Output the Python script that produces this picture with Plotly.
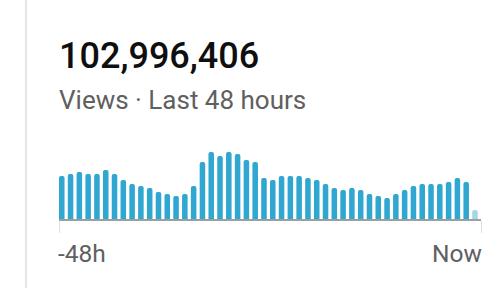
import plotly.graph_objects as go

hours = list(range(48))
views = [43, 45, 47, 45, 45, 49, 45, 39, 35, 33, 31, 27, 25, 23, 25, 33,
         57, 67, 63, 67, 65, 59, 57, 41, 39, 43, 43, 43, 41, 39, 35, 31,
         29, 31, 29, 25, 23, 21, 25, 29, 33, 35, 35, 35, 37, 41, 37, 9]
tick_labels = ["-48h", "Now"]
total_views = "102,996,406"
subtitle = "Views · Last 48 hours"

BLUE = "#30a7d0"
LIGHT = "#a3d6ea"
colors = [BLUE] * (len(views) - 1) + [LIGHT]

W, H = 498, 288
L, R, T, B = 59, 17, 149, 69
ph = H - T - B

def py(Y):
    return (H - B - Y) / ph

fig = go.Figure(go.Bar(
    x=hours, y=views, marker=dict(color=colors, line=dict(width=0)),
    width=0.63, offset=0, hoverinfo="skip"))

fig.update_layout(
    width=W, height=H, margin=dict(l=L, r=R, t=T, b=B),
    paper_bgcolor="white", plot_bgcolor="white",
    barcornerradius=3, showlegend=False,
    font=dict(family="Roboto", color="#606060"),
    xaxis=dict(range=[0, len(hours)], tickvals=[0, len(hours)], ticktext=["", ""],
               ticks="outside", ticklen=12, tickcolor="#e0e0e0", tickwidth=1,
               showline=True, linecolor="#9e9e9e", linewidth=2,
               showgrid=False, zeroline=False, fixedrange=True),
    yaxis=dict(range=[0, 70], visible=False, showgrid=False, zeroline=False),
    shapes=[dict(type="line", xref="paper", yref="paper",
                 x0=(26 - L) / (W - L - R), x1=(26 - L) / (W - L - R),
                 y0=py(H), y1=py(0), line=dict(color="#e5e5e5", width=2))],
    annotations=[
        dict(text=total_views, xref="paper", yref="paper",
             x=0, y=py(56.5), xanchor="left", yanchor="middle", showarrow=False,
             xshift=-2,
             font=dict(family="Roboto", size=36, weight=500, color="#0f0f0f")),
        dict(text=subtitle, xref="paper", yref="paper",
             x=0, y=py(100), xanchor="left", yanchor="middle", showarrow=False,
             xshift=-2,
             font=dict(family="Roboto", size=26, color="#606060")),
        dict(text=tick_labels[0], xref="x", yref="paper",
             x=0, y=py(253), xanchor="left", yanchor="middle", showarrow=False,
             xshift=-3,
             font=dict(family="Roboto", size=24.5, color="#606060")),
        dict(text=tick_labels[1], xref="x", yref="paper",
             x=len(hours), y=py(253), xanchor="right", yanchor="middle", showarrow=False,
             xshift=3,
             font=dict(family="Roboto", size=24.5, color="#606060")),
    ],
)
fig.write_html("out.html")
